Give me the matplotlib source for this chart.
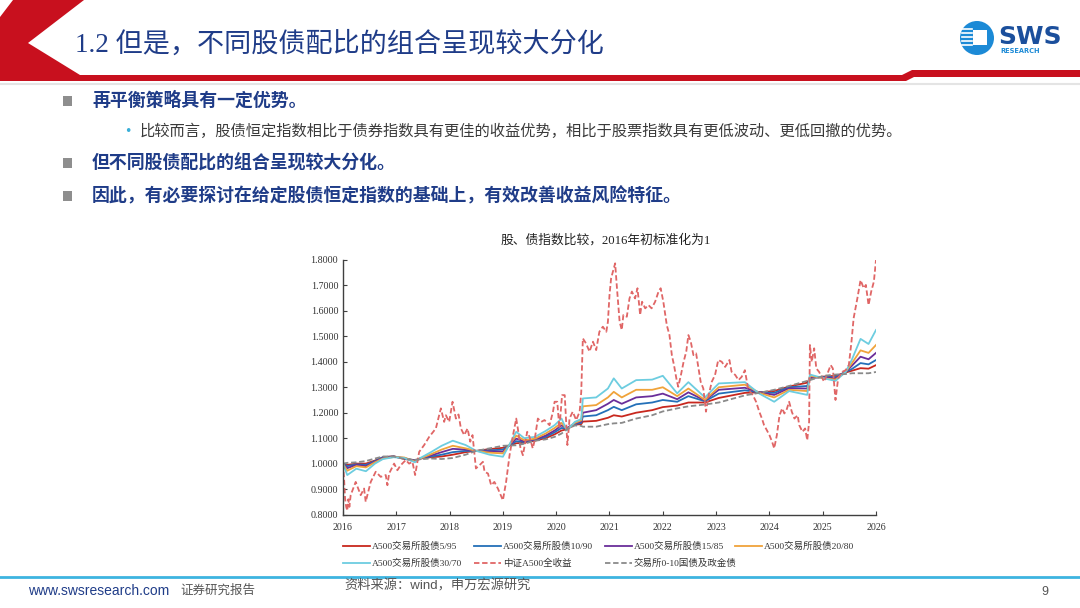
import matplotlib
matplotlib.use('Agg')
import matplotlib.pyplot as plt
from matplotlib.patches import Polygon, Circle, Rectangle
from matplotlib.ticker import FormatStrFormatter

plt.rcParams['font.family'] = ['Liberation Serif', 'Noto Sans CJK SC', 'DejaVu Sans']
plt.rcParams['axes.unicode_minus'] = False

# 中证A500全收益
eq_years = [2016.00, 2016.02, 2016.04, 2016.06, 2016.08, 2016.10, 2016.12, 2016.144, 2016.238, 2016.332,
            2016.395, 2016.426, 2016.52, 2016.614, 2016.708, 2016.802, 2016.833, 2016.865, 2016.959, 2017.02,
            2017.084, 2017.178, 2017.24, 2017.303, 2017.353, 2017.397, 2017.429, 2017.523, 2017.617, 2017.742,
            2017.836, 2017.898, 2017.93, 2017.992, 2018.055, 2018.118, 2018.168, 2018.212, 2018.274, 2018.337,
            2018.387, 2018.43, 2018.494, 2018.5625, 2018.625, 2018.656, 2018.72, 2018.78, 2018.84, 2018.906,
            2019.0, 2019.06, 2019.125, 2019.19, 2019.25, 2019.28, 2019.33, 2019.375, 2019.41, 2019.456,
            2019.5, 2019.56, 2019.59, 2019.656, 2019.72, 2019.78, 2019.875, 2019.94, 2019.97, 2020.02,
            2020.06, 2020.11, 2020.16, 2020.21, 2020.25, 2020.31, 2020.375, 2020.44, 2020.47, 2020.5,
            2020.56, 2020.625, 2020.69, 2020.75, 2020.81, 2020.875, 2020.94, 2020.97, 2021.0, 2021.03,
            2021.106, 2021.14, 2021.19, 2021.23, 2021.26, 2021.325, 2021.375, 2021.42, 2021.48, 2021.525,
            2021.575, 2021.61, 2021.67, 2021.73, 2021.79, 2021.856, 2021.92, 2021.96, 2022.01, 2022.075,
            2022.125, 2022.17, 2022.21, 2022.26, 2022.29, 2022.34, 2022.39, 2022.44, 2022.48, 2022.525,
            2022.575, 2022.625, 2022.67, 2022.71, 2022.76, 2022.81, 2022.86, 2022.92, 2022.98, 2023.04,
            2023.106, 2023.17, 2023.25, 2023.29, 2023.36, 2023.42, 2023.48, 2023.54, 2023.6, 2023.64,
            2023.69, 2023.75, 2023.81, 2023.86, 2023.9, 2023.95, 2024.0, 2024.05, 2024.09, 2024.14,
            2024.19, 2024.24, 2024.28, 2024.32, 2024.37, 2024.42, 2024.47, 2024.53, 2024.56, 2024.62,
            2024.67, 2024.71, 2024.745, 2024.76, 2024.795, 2024.84, 2024.88, 2024.93, 2024.98, 2025.025,
            2025.09, 2025.15, 2025.19, 2025.24, 2025.29, 2025.37, 2025.43, 2025.49, 2025.54, 2025.58,
            2025.65, 2025.71, 2025.77, 2025.81, 2025.86, 2025.91, 2025.96, 2026.0]
eq_values = [1.000, 0.940, 0.860, 0.830, 0.815, 0.860, 0.830, 0.876, 0.928, 0.876,
             0.902, 0.850, 0.928, 0.968, 0.948, 0.955, 0.915, 0.961, 1.000, 0.974,
             0.994, 1.014, 1.000, 1.007, 0.955, 1.007, 1.046, 1.073, 1.105, 1.138,
             1.217, 1.164, 1.190, 1.164, 1.243, 1.177, 1.193, 1.138, 1.112, 1.138,
             1.086, 1.112, 0.981, 0.994, 1.007, 0.968, 0.961, 0.915, 0.928, 0.902,
             0.856, 0.928, 1.033, 1.112, 1.177, 1.138, 1.060, 1.033, 1.073, 1.125,
             1.105, 1.060, 1.086, 1.177, 1.164, 1.171, 1.151, 1.204, 1.243, 1.243,
             1.138, 1.269, 1.269, 1.073, 1.177, 1.204, 1.171, 1.204, 1.282, 1.492,
             1.472, 1.440, 1.479, 1.446, 1.518, 1.538, 1.518, 1.557, 1.662, 1.728,
             1.787, 1.689, 1.557, 1.525, 1.584, 1.577, 1.649, 1.676, 1.649, 1.689,
             1.584, 1.636, 1.610, 1.623, 1.610, 1.636, 1.676, 1.689, 1.636, 1.544,
             1.505, 1.426, 1.387, 1.328, 1.302, 1.348, 1.400, 1.440, 1.505, 1.479,
             1.426, 1.433, 1.374, 1.322, 1.295, 1.204, 1.269, 1.322, 1.348, 1.407,
             1.400, 1.380, 1.407, 1.361, 1.348, 1.328, 1.341, 1.367, 1.295, 1.282,
             1.269, 1.243, 1.204, 1.177, 1.151, 1.132, 1.112, 1.086, 1.060, 1.112,
             1.190, 1.217, 1.197, 1.210, 1.243, 1.204, 1.177, 1.190, 1.151, 1.125,
             1.138, 1.092, 1.164, 1.466, 1.400, 1.453, 1.374, 1.361, 1.341, 1.322,
             1.354, 1.387, 1.374, 1.250, 1.335, 1.361, 1.367, 1.387, 1.479, 1.571,
             1.649, 1.721, 1.689, 1.702, 1.623, 1.676, 1.715, 1.800]

# 股债组合与债券指数
mix_years = [2016.0, 2016.08, 2016.25, 2016.43, 2016.6, 2016.75, 2016.95, 2017.15, 2017.35, 2017.45,
             2017.65, 2017.85, 2018.06, 2018.3, 2018.5, 2018.75, 2019.0, 2019.25, 2019.4, 2019.6,
             2019.8, 2019.97, 2020.1, 2020.2, 2020.35, 2020.47, 2020.5, 2020.75, 2020.97, 2021.08,
             2021.23, 2021.5, 2021.8, 2022.0, 2022.27, 2022.48, 2022.79, 2023.05, 2023.54, 2023.81,
             2024.09, 2024.37, 2024.71, 2024.76, 2025.02, 2025.24, 2025.43, 2025.55, 2025.71, 2025.86,
             2026.0]
bond = [1.000, 1.003, 1.005, 1.010, 1.020, 1.028, 1.028, 1.018, 1.015, 1.017,
        1.020, 1.018, 1.022, 1.035, 1.050, 1.060, 1.070, 1.072, 1.078, 1.090,
        1.095, 1.105, 1.118, 1.135, 1.150, 1.148, 1.145, 1.145, 1.155, 1.158,
        1.160, 1.177, 1.190, 1.205, 1.217, 1.225, 1.232, 1.240, 1.268, 1.278,
        1.290, 1.305, 1.325, 1.328, 1.345, 1.350, 1.352, 1.355, 1.355, 1.355,
        1.360]
mix_5_95 = [1.000, 0.995, 1.000, 1.000, 1.012, 1.025, 1.029, 1.018, 1.013, 1.020,
            1.025, 1.028, 1.035, 1.045, 1.050, 1.057, 1.062, 1.080, 1.082, 1.090,
            1.100, 1.115, 1.130, 1.135, 1.153, 1.155, 1.165, 1.168, 1.180, 1.190,
            1.185, 1.200, 1.210, 1.222, 1.228, 1.240, 1.240, 1.258, 1.278, 1.280,
            1.285, 1.303, 1.318, 1.336, 1.342, 1.345, 1.358, 1.365, 1.375, 1.373,
            1.387]
mix_10_90 = [1.000, 0.990, 0.997, 0.995, 1.010, 1.025, 1.028, 1.020, 1.012, 1.020,
             1.028, 1.035, 1.045, 1.050, 1.050, 1.052, 1.055, 1.088, 1.085, 1.093,
             1.105, 1.123, 1.140, 1.138, 1.155, 1.160, 1.185, 1.190, 1.210, 1.223,
             1.210, 1.233, 1.240, 1.250, 1.243, 1.265, 1.245, 1.275, 1.288, 1.280,
             1.278, 1.300, 1.305, 1.338, 1.340, 1.340, 1.360, 1.372, 1.395, 1.390,
             1.407]
mix_15_85 = [1.000, 0.982, 0.995, 0.990, 1.008, 1.022, 1.027, 1.022, 1.010, 1.020,
             1.032, 1.045, 1.058, 1.055, 1.050, 1.048, 1.047, 1.098, 1.088, 1.095,
             1.110, 1.130, 1.150, 1.140, 1.158, 1.165, 1.200, 1.210, 1.235, 1.250,
             1.235, 1.260, 1.265, 1.275, 1.253, 1.280, 1.248, 1.290, 1.298, 1.280,
             1.270, 1.296, 1.295, 1.340, 1.338, 1.335, 1.360, 1.385, 1.420, 1.410,
             1.435]
mix_20_80 = [1.000, 0.972, 0.990, 0.985, 1.005, 1.020, 1.026, 1.024, 1.008, 1.020,
             1.037, 1.055, 1.070, 1.060, 1.050, 1.043, 1.040, 1.110, 1.092, 1.098,
             1.118, 1.140, 1.160, 1.135, 1.160, 1.170, 1.225, 1.230, 1.260, 1.282,
             1.260, 1.290, 1.290, 1.300, 1.265, 1.295, 1.250, 1.300, 1.310, 1.278,
             1.260, 1.290, 1.285, 1.345, 1.335, 1.330, 1.360, 1.395, 1.445, 1.435,
             1.466]
mix_30_70 = [1.000, 0.955, 0.980, 0.970, 1.000, 1.018, 1.025, 1.022, 1.005, 1.022,
             1.045, 1.070, 1.090, 1.073, 1.050, 1.035, 1.027, 1.125, 1.100, 1.105,
             1.128, 1.151, 1.177, 1.130, 1.164, 1.175, 1.256, 1.260, 1.295, 1.335,
             1.295, 1.328, 1.330, 1.345, 1.276, 1.320, 1.260, 1.315, 1.320, 1.275,
             1.243, 1.285, 1.270, 1.350, 1.335, 1.325, 1.360, 1.410, 1.490, 1.470,
             1.525]

year_ticks = list(range(2016, 2027))

W, H = 1080, 608
fig = plt.figure(figsize=(W / 100, H / 100), dpi=100)

# 背景层 (像素坐标)
bg = fig.add_axes([0, 0, 1, 1], zorder=0)
bg.set_xlim(0, W)
bg.set_ylim(H, 0)
bg.axis('off')

red = '#C8101E'
navy = '#1F3C88'
bg.add_patch(Polygon([(13, 0), (84, 0), (28, 43), (80, 75), (902, 75), (912, 70), (1080, 70),
                      (1080, 77), (914, 77), (906, 81), (0, 81), (0, 17)],
                     closed=True, facecolor=red, edgecolor='none'))
bg.plot([0, 1080], [83.5, 83.5], color='#E4E4E4', lw=1.5)

bg.text(75, 45, '1.2 但是，不同股债配比的组合呈现较大分化', fontsize=19.5, color=navy,
        va='center', ha='left')

# logo
bg.add_patch(Circle((977, 38), 17, facecolor='#1C8AD6', edgecolor='none'))
bg.add_patch(Rectangle((973, 30), 14, 15, facecolor='white', edgecolor='none'))
for yy in [29, 33, 37, 41, 45]:
    bg.plot([962, 972], [yy, yy], color='white', lw=1.2)
bg.text(998, 37, 'SWS', fontsize=18, fontweight='bold', color='#1B4F9C', family='DejaVu Sans',
        va='center', ha='left')
bg.text(1000, 51, 'RESEARCH', fontsize=4.8, fontweight='bold', color='#1C8AD6', family='DejaVu Sans',
        va='center', ha='left')

# 要点
bullets = [(101, '再平衡策略具有一定优势。'),
           (163, '但不同股债配比的组合呈现较大分化。'),
           (196, '因此，有必要探讨在给定股债恒定指数的基础上，有效改善收益风险特征。')]
for yy, txt in bullets:
    bg.add_patch(Rectangle((63, yy - 5), 9, 10, facecolor='#8E8E8E', edgecolor='none'))
    bg.text(92, yy, txt, fontsize=12.9, fontweight='bold', color=navy, family='Noto Sans CJK SC',
            va='center', ha='left')
bg.text(128, 131, '•', fontsize=9, color='#3AAFD8', family='DejaVu Sans', va='center', ha='center')
bg.text(140, 131, '比较而言，股债恒定指数相比于债券指数具有更佳的收益优势，相比于股票指数具有更低波动、更低回撤的优势。',
        fontsize=11, color='#3A3A3A', family='Noto Sans CJK SC', va='center', ha='left')

# 页脚
bg.plot([0, 1080], [577, 577], color='#3DB4E0', lw=2)
bg.text(28, 591, 'www.swsresearch.com', fontsize=10, color='#1F3C88', family='Liberation Sans',
        va='center', ha='left')
bg.text(180, 590, '证券研究报告', fontsize=9, color='#555555', family='Noto Sans CJK SC',
        va='center', ha='left')
bg.text(344, 586, '资料来源：wind，申万宏源研究', fontsize=9.5, color='#555555',
        family=['Liberation Sans', 'Noto Sans CJK SC'], va='center', ha='left')
bg.text(1045, 592, '9', fontsize=9, color='#555555', family='Liberation Sans', va='center', ha='center')

# 图表标题
bg.text(606, 240, '股、债指数比较，2016年初标准化为1', fontsize=9.2, color='#222222',
        va='center', ha='center')

# 主图
ax = fig.add_axes([343 / W, 1 - 514.5 / H, (876 - 343) / W, (514.5 - 260) / H], zorder=1)
ax.patch.set_alpha(0)

series = [
    (mix_years, mix_5_95, '#C8281E', '-', 'A500交易所股债5/95'),
    (mix_years, mix_10_90, '#2470B8', '-', 'A500交易所股债10/90'),
    (mix_years, mix_15_85, '#6A2E9A', '-', 'A500交易所股债15/85'),
    (mix_years, mix_20_80, '#F0A33A', '-', 'A500交易所股债20/80'),
    (mix_years, mix_30_70, '#6DCDE0', '-', 'A500交易所股债30/70'),
    (eq_years, eq_values, '#E06666', '--', '中证A500全收益'),
    (mix_years, bond, '#8A8A8A', '--', '交易所0-10国债及政金债'),
]
dash = (0, (3, 1.5))
for xs, ys, c, ls, lab in series:
    ax.plot(xs, ys, color=c, lw=1.3, linestyle=dash if ls == '--' else '-', label=lab)

ax.set_xlim(2016, 2026)
ax.set_ylim(0.8, 1.8)
ax.set_xticks(year_ticks)
ax.set_xticklabels([str(y) for y in year_ticks])
ax.set_yticks([0.8 + 0.1 * i for i in range(11)])
ax.yaxis.set_major_formatter(FormatStrFormatter('%.4f'))
for s in ['top', 'right']:
    ax.spines[s].set_visible(False)
for s in ['left', 'bottom']:
    ax.spines[s].set_color('#404040')
    ax.spines[s].set_linewidth(1.0)
ax.tick_params(axis='both', direction='in', length=3, width=0.8, color='#404040',
               labelsize=7.2, labelcolor='#333333')
ax.tick_params(axis='x', pad=6)

# 图例 (两行四列)
leg_cols = [343, 474, 605, 735]
leg_rows = [546, 563]
for i, (xs, ys, c, ls, lab) in enumerate(series):
    lx = leg_cols[i % 4]
    ly = leg_rows[i // 4]
    bg.plot([lx, lx + 27], [ly, ly], color=c, lw=1.3, linestyle=dash if ls == '--' else '-')
    bg.text(lx + 29, ly, lab, fontsize=6.8, color='#333333', va='center', ha='left')

fig.savefig('out.png', dpi=100)
